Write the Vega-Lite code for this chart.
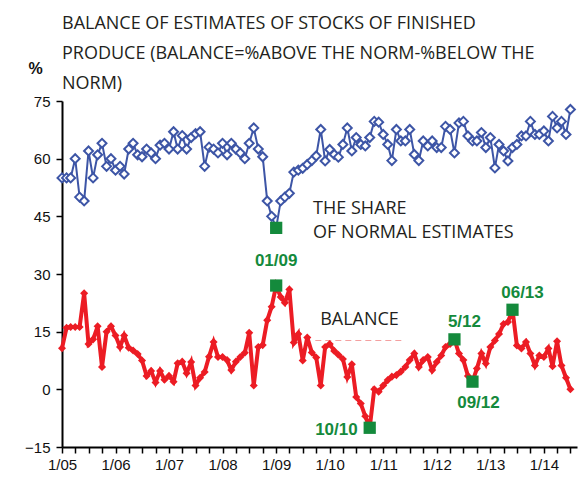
{
  "$schema": "https://vega.github.io/schema/vega-lite/v6.json",
  "width": 515,
  "height": 346,
  "autosize": "none",
  "padding": {"left": 62, "top": 101, "right": 2, "bottom": 32},
  "background": "white",
  "config": {
    "view": {"stroke": null},
    "axis": {"labelFont": "Liberation Sans", "labelFontSize": 15, "labelColor": "#111", "domainColor": "#000", "domainWidth": 2, "tickColor": "#000", "tickWidth": 1.5, "tickSize": 6, "grid": false}
  },
  "title": {
    "text": ["BALANCE OF ESTIMATES OF STOCKS OF FINISHED", "PRODUCE  (BALANCE=%ABOVE THE NORM-%BELOW THE", "NORM)"],
    "anchor": "start",
    "frame": "group",
    "font": "Open Sans",
    "fontSize": 18,
    "fontWeight": "normal",
    "color": "#231f20",
    "lineHeight": 30,
    "offset": -33
  },
  "datasets": {
    "series": [
      {"date": "2005-01-01", "share": 55, "balance": 10.7},
      {"date": "2005-02-01", "share": 55, "balance": 16},
      {"date": "2005-03-01", "share": 55, "balance": 16.2},
      {"date": "2005-04-01", "share": 60, "balance": 16.2},
      {"date": "2005-05-01", "share": 50, "balance": 16.2},
      {"date": "2005-06-01", "share": 49, "balance": 25},
      {"date": "2005-07-01", "share": 62, "balance": 11.8},
      {"date": "2005-08-01", "share": 55, "balance": 13},
      {"date": "2005-09-01", "share": 61, "balance": 16.4},
      {"date": "2005-10-01", "share": 64, "balance": 5.8},
      {"date": "2005-11-01", "share": 58, "balance": 15},
      {"date": "2005-12-01", "share": 60, "balance": 16.4},
      {"date": "2006-01-01", "share": 57, "balance": 14},
      {"date": "2006-02-01", "share": 58, "balance": 11},
      {"date": "2006-03-01", "share": 56, "balance": 14},
      {"date": "2006-04-01", "share": 62.5, "balance": 10.8},
      {"date": "2006-05-01", "share": 64, "balance": 10.1},
      {"date": "2006-06-01", "share": 61, "balance": 9.2},
      {"date": "2006-07-01", "share": 60.5, "balance": 7.5},
      {"date": "2006-08-01", "share": 62.5, "balance": 3.5},
      {"date": "2006-09-01", "share": 61.5, "balance": 4.8},
      {"date": "2006-10-01", "share": 60, "balance": 1.8},
      {"date": "2006-11-01", "share": 63.5, "balance": 4.8},
      {"date": "2006-12-01", "share": 64, "balance": 2.5},
      {"date": "2007-01-01", "share": 62.5, "balance": 3.5},
      {"date": "2007-02-01", "share": 67, "balance": 2},
      {"date": "2007-03-01", "share": 62.5, "balance": 6.8},
      {"date": "2007-04-01", "share": 66, "balance": 7.2},
      {"date": "2007-05-01", "share": 62.5, "balance": 4.2},
      {"date": "2007-06-01", "share": 65.5, "balance": 7.1},
      {"date": "2007-07-01", "share": 66.5, "balance": 1},
      {"date": "2007-08-01", "share": 67, "balance": 3},
      {"date": "2007-09-01", "share": 58, "balance": 4.5},
      {"date": "2007-10-01", "share": 63, "balance": 8.5},
      {"date": "2007-11-01", "share": 62.5, "balance": 12.3},
      {"date": "2007-12-01", "share": 61.5, "balance": 8.4},
      {"date": "2008-01-01", "share": 64, "balance": 8.4},
      {"date": "2008-02-01", "share": 61, "balance": 7.6},
      {"date": "2008-03-01", "share": 64, "balance": 5},
      {"date": "2008-04-01", "share": 62.5, "balance": 7.2},
      {"date": "2008-05-01", "share": 61.5, "balance": 8.4},
      {"date": "2008-06-01", "share": 60, "balance": 9.5},
      {"date": "2008-07-01", "share": 64, "balance": 14.7},
      {"date": "2008-08-01", "share": 68, "balance": 1},
      {"date": "2008-09-01", "share": 62.5, "balance": 11},
      {"date": "2008-10-01", "share": 60.5, "balance": 11.5},
      {"date": "2008-11-01", "share": 49, "balance": 18},
      {"date": "2008-12-01", "share": 45, "balance": 21.5},
      {"date": "2009-01-01", "share": 42, "balance": 27},
      {"date": "2009-02-01", "share": 49, "balance": 24},
      {"date": "2009-03-01", "share": 50, "balance": 22.5},
      {"date": "2009-04-01", "share": 51, "balance": 26},
      {"date": "2009-05-01", "share": 56.5, "balance": 12.2},
      {"date": "2009-06-01", "share": 57, "balance": 14.4},
      {"date": "2009-07-01", "share": 57.5, "balance": 7.5},
      {"date": "2009-08-01", "share": 58.5, "balance": 13.5},
      {"date": "2009-09-01", "share": 59.5, "balance": 9.6},
      {"date": "2009-10-01", "share": 60.7, "balance": 8.3},
      {"date": "2009-11-01", "share": 67.6, "balance": 1},
      {"date": "2009-12-01", "share": 59.4, "balance": 11},
      {"date": "2010-01-01", "share": 62.4, "balance": 11.8},
      {"date": "2010-02-01", "share": 61.1, "balance": 10},
      {"date": "2010-03-01", "share": 60.4, "balance": 9},
      {"date": "2010-04-01", "share": 63.7, "balance": 7.9},
      {"date": "2010-05-01", "share": 68, "balance": 3.2},
      {"date": "2010-06-01", "share": 62, "balance": 6.5},
      {"date": "2010-07-01", "share": 65.5, "balance": -2},
      {"date": "2010-08-01", "share": 63.7, "balance": -3.7},
      {"date": "2010-09-01", "share": 63.3, "balance": -7},
      {"date": "2010-10-01", "share": 65.5, "balance": -10},
      {"date": "2010-11-01", "share": 69.7, "balance": 0},
      {"date": "2010-12-01", "share": 69.5, "balance": -0.6},
      {"date": "2011-01-01", "share": 66.3, "balance": 1},
      {"date": "2011-02-01", "share": 63.7, "balance": 2.4},
      {"date": "2011-03-01", "share": 59.5, "balance": 3.3},
      {"date": "2011-04-01", "share": 67.6, "balance": 3.7},
      {"date": "2011-05-01", "share": 64.6, "balance": 4.6},
      {"date": "2011-06-01", "share": 64.6, "balance": 5.8},
      {"date": "2011-07-01", "share": 67.6, "balance": 7.6},
      {"date": "2011-08-01", "share": 61.1, "balance": 9.3},
      {"date": "2011-09-01", "share": 59.5, "balance": 5.8},
      {"date": "2011-10-01", "share": 64.6, "balance": 7.6},
      {"date": "2011-11-01", "share": 63.3, "balance": 8.4},
      {"date": "2011-12-01", "share": 64.6, "balance": 5},
      {"date": "2012-01-01", "share": 62.9, "balance": 7.1},
      {"date": "2012-02-01", "share": 62.9, "balance": 8.8},
      {"date": "2012-03-01", "share": 68.4, "balance": 11},
      {"date": "2012-04-01", "share": 67.6, "balance": 11.8},
      {"date": "2012-05-01", "share": 61.5, "balance": 13},
      {"date": "2012-06-01", "share": 69.3, "balance": 9.3},
      {"date": "2012-07-01", "share": 69.7, "balance": 7.6},
      {"date": "2012-08-01", "share": 65.9, "balance": 3.5},
      {"date": "2012-09-01", "share": 64.6, "balance": 2},
      {"date": "2012-10-01", "share": 64.6, "balance": 5.4},
      {"date": "2012-11-01", "share": 66.8, "balance": 9.3},
      {"date": "2012-12-01", "share": 62.9, "balance": 6.7},
      {"date": "2013-01-01", "share": 65.5, "balance": 11},
      {"date": "2013-02-01", "share": 57.6, "balance": 12.7},
      {"date": "2013-03-01", "share": 63.7, "balance": 14.4},
      {"date": "2013-04-01", "share": 62, "balance": 17},
      {"date": "2013-05-01", "share": 59.4, "balance": 17.5},
      {"date": "2013-06-01", "share": 62.9, "balance": 20.7},
      {"date": "2013-07-01", "share": 63.7, "balance": 11.4},
      {"date": "2013-08-01", "share": 65.9, "balance": 10.6},
      {"date": "2013-09-01", "share": 65.9, "balance": 12.3},
      {"date": "2013-10-01", "share": 69.7, "balance": 9.3},
      {"date": "2013-11-01", "share": 66.3, "balance": 6.2},
      {"date": "2013-12-01", "share": 66.3, "balance": 8.8},
      {"date": "2014-01-01", "share": 67.2, "balance": 8.4},
      {"date": "2014-02-01", "share": 64.6, "balance": 10.6},
      {"date": "2014-03-01", "share": 71, "balance": 6},
      {"date": "2014-04-01", "share": 68, "balance": 12.5},
      {"date": "2014-05-01", "share": 69.7, "balance": 6.2},
      {"date": "2014-06-01", "share": 66.3, "balance": 3},
      {"date": "2014-07-01", "share": 72.8, "balance": 0}
    ],
    "notes": [
      {"date": "2009-01-01", "value": 27, "label": "01/09", "pos": "top"},
      {"date": "2009-01-01", "value": 42, "label": "", "pos": "none"},
      {"date": "2010-10-01", "value": -10, "label": "10/10", "pos": "left"},
      {"date": "2012-05-01", "value": 13, "label": "5/12", "pos": "topright"},
      {"date": "2012-09-01", "value": 2, "label": "09/12", "pos": "bottom"},
      {"date": "2013-06-01", "value": 20.7, "label": "06/13", "pos": "topright"}
    ],
    "texts": [
      {"date": "2009-09-10", "value": 46.9, "text": "THE SHARE\nOF NORMAL ESTIMATES"},
      {"date": "2009-10-28", "value": 18.1, "text": "BALANCE"}
    ],
    "dash": [
      {"start": "2009-09-25", "end": "2011-05-25", "value": 12.7}
    ]
  },
  "layer": [
    {
      "mark": {"type": "rule", "color": "#000", "strokeWidth": 1.5},
      "encoding": {"y": {"datum": 75, "type": "quantitative"}}
    },
    {
      "mark": {"type": "rule", "color": "#000", "strokeWidth": 2},
      "encoding": {"y": {"datum": 0, "type": "quantitative"}}
    },
    {
      "data": {"name": "dash"},
      "mark": {"type": "rule", "color": "#f4a0a0", "strokeWidth": 1, "strokeDash": [6, 4]},
      "encoding": {
        "x": {"field": "start", "type": "temporal"},
        "x2": {"field": "end"},
        "y": {"field": "value", "type": "quantitative"}
      }
    },
    {
      "data": {"name": "series"},
      "mark": {"type": "line", "color": "#3d55a6", "strokeWidth": 2, "point": {"shape": "diamond", "filled": true, "fill": "white", "stroke": "#3d55a6", "strokeWidth": 2, "size": 80}},
      "encoding": {
        "x": {
          "field": "date", "type": "temporal",
          "scale": {"type": "utc", "domain": [{"year": 2005, "month": 1, "date": 1, "utc": true}, {"year": 2014, "month": 8, "date": 15, "utc": true}]},
          "axis": {"title": null, "tickCount": {"interval": "month", "step": 3}, "labelExpr": "utcmonth(datum.value) == 0 ? '1/' + utcFormat(datum.value, '%y') : ''", "labelPadding": 4, "labelOverlap": false, "labelFlush": false}
        },
        "y": {
          "field": "share", "type": "quantitative",
          "scale": {"domain": [-15, 75], "nice": false, "zero": false},
          "axis": {"title": "%", "values": [-15, 0, 15, 30, 45, 60, 75], "labelPadding": 6, "titleAngle": 0, "titleX": -27, "titleY": -33, "titleAlign": "center", "titleBaseline": "middle", "titleFont": "Liberation Sans", "titleFontSize": 16, "titleFontWeight": "bold", "titleColor": "#111"}
        }
      }
    },
    {
      "data": {"name": "series"},
      "mark": {"type": "line", "color": "#ec1c24", "strokeWidth": 4, "point": {"shape": "diamond", "filled": true, "color": "#ec1c24", "size": 65}},
      "encoding": {
        "x": {"field": "date", "type": "temporal"},
        "y": {"field": "balance", "type": "quantitative"}
      }
    },
    {
      "data": {"name": "notes"},
      "mark": {"type": "point", "shape": "square", "filled": true, "color": "#148a3c", "size": 150, "opacity": 1},
      "encoding": {
        "x": {"field": "date", "type": "temporal"},
        "y": {"field": "value", "type": "quantitative"}
      }
    },
    {
      "data": {"name": "notes"},
      "transform": [{"filter": "datum.pos == 'top'"}],
      "mark": {"type": "text", "font": "Liberation Sans", "fontSize": 17, "fontWeight": "bold", "color": "#148a3c", "dy": -25, "align": "center"},
      "encoding": {
        "x": {"field": "date", "type": "temporal"},
        "y": {"field": "value", "type": "quantitative"},
        "text": {"field": "label"}
      }
    },
    {
      "data": {"name": "notes"},
      "transform": [{"filter": "datum.pos == 'topright'"}],
      "mark": {"type": "text", "font": "Liberation Sans", "fontSize": 17, "fontWeight": "bold", "color": "#148a3c", "dy": -17, "dx": 10, "align": "center"},
      "encoding": {
        "x": {"field": "date", "type": "temporal"},
        "y": {"field": "value", "type": "quantitative"},
        "text": {"field": "label"}
      }
    },
    {
      "data": {"name": "notes"},
      "transform": [{"filter": "datum.pos == 'bottom'"}],
      "mark": {"type": "text", "font": "Liberation Sans", "fontSize": 17, "fontWeight": "bold", "color": "#148a3c", "dy": 21, "dx": 6, "align": "center"},
      "encoding": {
        "x": {"field": "date", "type": "temporal"},
        "y": {"field": "value", "type": "quantitative"},
        "text": {"field": "label"}
      }
    },
    {
      "data": {"name": "notes"},
      "transform": [{"filter": "datum.pos == 'left'"}],
      "mark": {"type": "text", "font": "Liberation Sans", "fontSize": 17, "fontWeight": "bold", "color": "#148a3c", "dy": 2, "dx": -12, "align": "right"},
      "encoding": {
        "x": {"field": "date", "type": "temporal"},
        "y": {"field": "value", "type": "quantitative"},
        "text": {"field": "label"}
      }
    },
    {
      "data": {"name": "texts"},
      "mark": {"type": "text", "font": "Open Sans", "fontSize": 18, "color": "#231f20", "align": "left", "baseline": "middle", "lineBreak": "\n", "lineHeight": 24},
      "encoding": {
        "x": {"field": "date", "type": "temporal"},
        "y": {"field": "value", "type": "quantitative"},
        "text": {"field": "text"}
      }
    }
  ]
}
